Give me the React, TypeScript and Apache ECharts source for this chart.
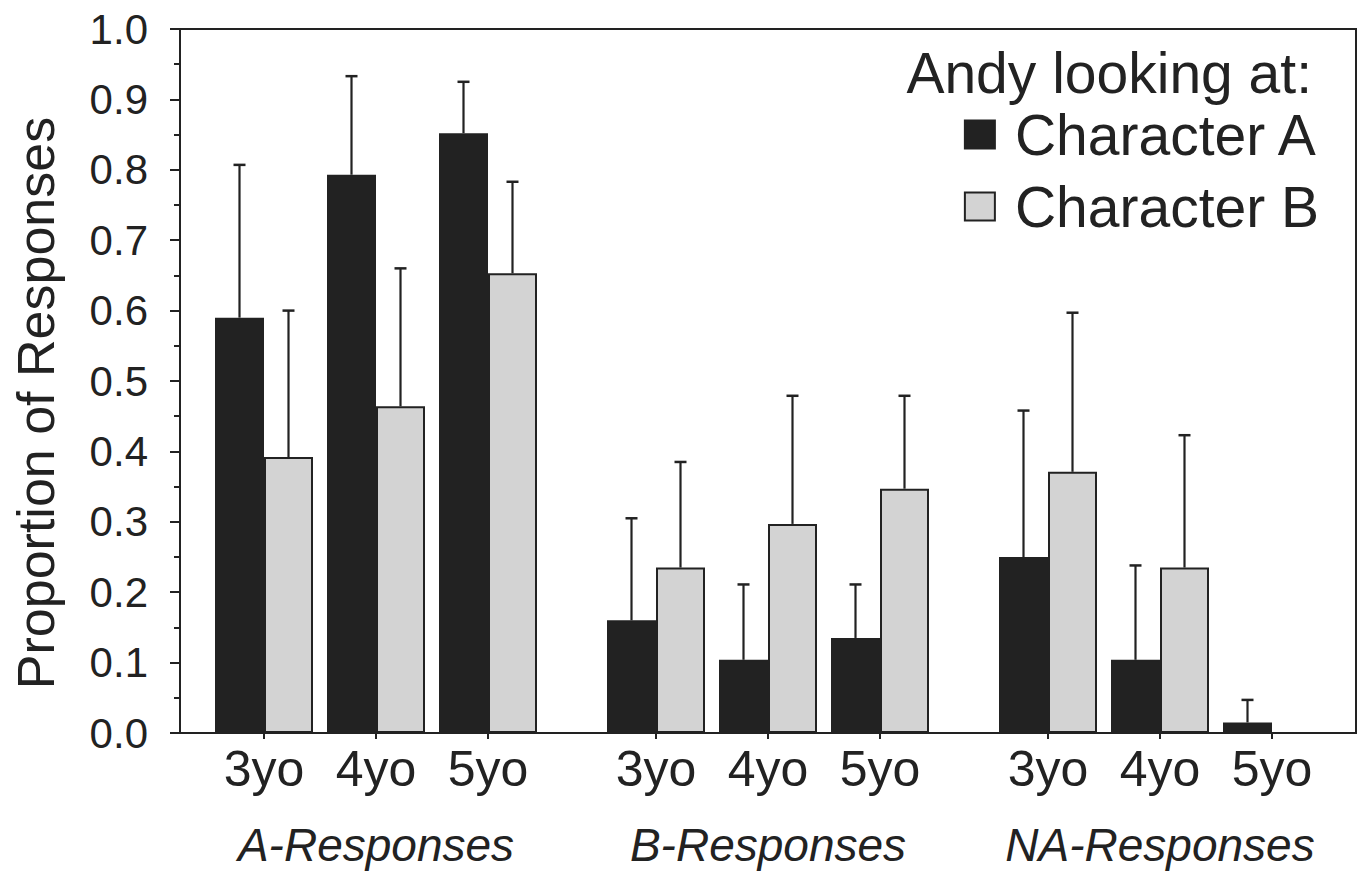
import React, { useEffect, useRef } from "react";
import * as echarts from "echarts";

const ageGroups = ["3yo", "4yo", "5yo"];
const responseTypes = ["A-Responses", "B-Responses", "NA-Responses"];
const seriesNames = ["Character A", "Character B"];
// order: A-Responses (3,4,5yo), B-Responses (3,4,5yo), NA-Responses (3,4,5yo)
const charAValues = [0.59, 0.793, 0.852, 0.16, 0.104, 0.135, 0.25, 0.104, 0.015];
const charAUpper = [0.807, 0.933, 0.925, 0.305, 0.211, 0.211, 0.458, 0.238, 0.047];
const charBValues = [0.392, 0.464, 0.653, 0.235, 0.297, 0.347, 0.371, 0.235, 0];
const charBUpper = [0.6, 0.66, 0.783, 0.385, 0.479, 0.479, 0.597, 0.423, null];
const yTicks = { min: 0, max: 1, interval: 0.1 };
const legendTitle = "Andy looking at:";
const yTitle = "Proportion of Responses";

const FONT = "'Liberation Sans', Arial, Helvetica, sans-serif";
const INK = "#222222";
const GREY = "#d3d3d3";
const BAR_W = 49;

// layout slots: spacer, age, spacer, age, spacer, age, spacer, spacer ...
const SLOTS_PER_GROUP = 7;
const TOTAL_SLOTS = responseTypes.length * SLOTS_PER_GROUP;
const slotOf = (g: number, a: number) => 1 + g * SLOTS_PER_GROUP + a * 2;

function buildSlots() {
  const ageLabels: string[] = new Array(TOTAL_SLOTS).fill("");
  const groupLabels: string[] = new Array(TOTAL_SLOTS).fill("");
  const a: (number | null)[] = new Array(TOTAL_SLOTS).fill(null);
  const b: (number | null)[] = new Array(TOTAL_SLOTS).fill(null);
  const errA: any[] = [];
  const errB: any[] = [];
  responseTypes.forEach((rt, g) => {
    groupLabels[slotOf(g, 1)] = rt;
    ageGroups.forEach((ag, i) => {
      const k = g * ageGroups.length + i;
      const s = slotOf(g, i);
      ageLabels[s] = ag;
      a[s] = charAValues[k];
      b[s] = charBValues[k];
      if (charAUpper[k] != null) errA.push([s, charAValues[k], charAUpper[k]]);
      if (charBUpper[k] != null) errB.push([s, charBValues[k], charBUpper[k]]);
    });
  });
  return { ageLabels, groupLabels, a, b, errA, errB };
}

function errorRender(offset: number) {
  return (params: any, api: any) => {
    const base = api.coord([api.value(0), api.value(1)]);
    const top = api.coord([api.value(0), api.value(2)]);
    const x = base[0] + offset;
    const style = { stroke: INK, lineWidth: 2.2 };
    return {
      type: "group",
      children: [
        { type: "line", shape: { x1: x, y1: base[1], x2: x, y2: top[1] }, style },
        { type: "line", shape: { x1: x - 6, y1: top[1], x2: x + 6, y2: top[1] }, style: { stroke: INK, lineWidth: 2.5 } },
      ],
    };
  };
}

export default function App() {
  const ref = useRef<HTMLDivElement>(null);
  useEffect(() => {
    document.body.style.margin = "0";
    const chart = echarts.init(ref.current!, null, { renderer: "svg" });
    const d = buildSlots();
    const showIdx = (labels: string[]) => (i: number) => labels[i] !== "";
    chart.setOption({
      animation: false,
      backgroundColor: "#ffffff",
      textStyle: { fontFamily: FONT, color: INK },
      grid: {
        left: 180,
        right: 9,
        top: 29,
        bottom: 140,
        show: true,
        borderColor: INK,
        borderWidth: 2,
        backgroundColor: "transparent",
      },
      legend: {
        data: seriesNames,
        orient: "vertical",
        right: 46,
        top: 106,
        padding: 0,
        itemWidth: 30,
        itemHeight: 28,
        itemGap: 15,
        icon: "rect",
        selectedMode: false,
        align: "left",
        textStyle: {
          fontFamily: FONT,
          fontSize: 57,
          lineHeight: 56,
          color: INK,
          padding: [0, 0, 0, 15],
        },
      },
      graphic: [
        {
          type: "text",
          x: 1312,
          y: 73,
          style: {
            text: legendTitle,
            fontFamily: FONT,
            fontSize: 57,
            fill: INK,
            align: "right",
            verticalAlign: "middle",
          },
        },
        {
          type: "text",
          x: 36,
          y: 403,
          rotation: Math.PI / 2,
          style: {
            text: yTitle,
            fontFamily: FONT,
            fontSize: 52,
            fill: INK,
            align: "center",
            verticalAlign: "middle",
          },
        },
      ],
      xAxis: [
        {
          type: "category",
          data: d.ageLabels,
          position: "bottom",
          axisLine: { show: true, lineStyle: { color: INK, width: 2 } },
          axisTick: {
            show: true,
            alignWithLabel: true,
            interval: showIdx(d.ageLabels),
            length: 6,
            inside: false,
            lineStyle: { color: INK, width: 2 },
          },
          axisLabel: {
            interval: showIdx(d.ageLabels),
            margin: 11,
            fontFamily: FONT,
            fontSize: 50,
            color: INK,
          },
          splitLine: { show: false },
        },
        {
          type: "category",
          data: d.groupLabels,
          position: "bottom",
          axisLine: { show: false },
          axisTick: { show: false },
          axisLabel: {
            interval: showIdx(d.groupLabels),
            margin: 89,
            fontFamily: FONT,
            fontSize: 46,
            fontStyle: "italic",
            color: INK,
          },
          splitLine: { show: false },
        },
      ],
      yAxis: {
        type: "value",
        min: yTicks.min,
        max: yTicks.max,
        interval: yTicks.interval,
        axisLine: { show: true, lineStyle: { color: INK, width: 2 } },
        axisTick: { show: true, length: 10, lineStyle: { color: INK, width: 2 } },
        minorTick: { show: true, splitNumber: 2, length: 6, lineStyle: { color: INK, width: 2 } },
        splitLine: { show: false },
        axisLabel: {
          margin: 32,
          fontFamily: FONT,
          fontSize: 42,
          color: INK,
          formatter: (v: number) => v.toFixed(1),
        },
      },
      series: [
        {
          name: seriesNames[0],
          type: "bar",
          data: d.a,
          barWidth: BAR_W,
          barGap: "0%",
          itemStyle: { color: INK, borderColor: INK, borderWidth: 1.5 },
        },
        {
          name: seriesNames[1],
          type: "bar",
          data: d.b,
          barWidth: BAR_W,
          barGap: "0%",
          itemStyle: { color: GREY, borderColor: INK, borderWidth: 2 },
        },
        {
          type: "custom",
          name: "errA",
          data: d.errA,
          renderItem: errorRender(-BAR_W / 2),
          z: 1,
        },
        {
          type: "custom",
          name: "errB",
          data: d.errB,
          renderItem: errorRender(BAR_W / 2),
          z: 1,
        },
      ],
    });
    return () => chart.dispose();
  }, []);
  return <div ref={ref} style={{ width: 1365, height: 873 }} />;
}
